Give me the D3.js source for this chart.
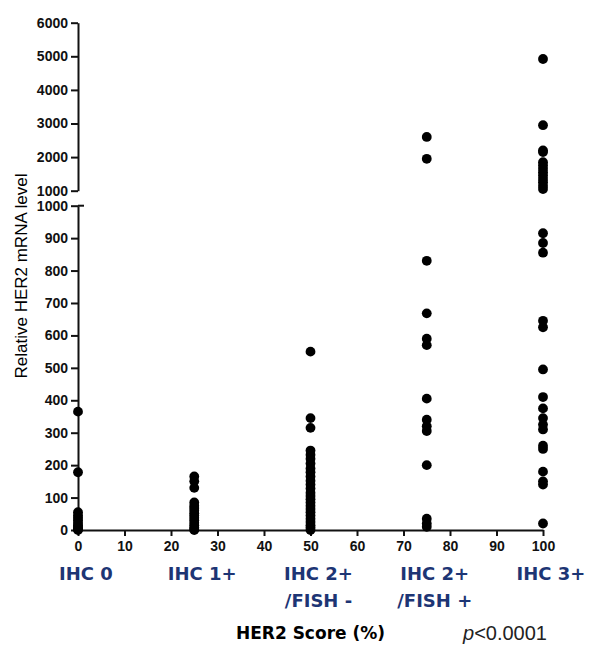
<!DOCTYPE html>
<html>
<head>
<meta charset="utf-8">
<script src="https://cdn.jsdelivr.net/npm/d3@7"></script>
<style>
  body { margin: 0; background: #fff; }
  svg { display: block; }
  .tk text { font-family: "Liberation Sans", Arial, sans-serif; font-weight: bold; font-size: 14px; fill: #111; }
  .tk path, .tk line { stroke: #111; stroke-width: 2px; }
</style>
</head>
<body>
<div id="chart"></div>
<script>
// HER2 score groups (x position in %) and their labels
var scores = [0, 25, 50, 75, 100];
var groupLabels = [["IHC 0"], ["IHC 1+"], ["IHC 2+", "/FISH -"], ["IHC 2+", "/FISH +"], ["IHC 3+"]];

// relative HER2 mRNA level per group
var ihc0 = [365, 178, 55, 45, 38, 30, 22, 15, 10, 5, 2, 0];
var ihc1 = [165, 150, 130, 85, 75, 68, 60, 52, 45, 38, 30, 22, 15, 8, 3, 0];
var ihc2neg = [550, 345, 315, 245, 232, 220, 205, 190, 178, 165, 152, 140, 128, 115, 105, 95, 85, 75, 65, 55, 45, 35, 25, 15, 8, 0];
var ihc2pos = [2600, 1950, 830, 668, 590, 570, 405, 340, 320, 305, 200, 35, 20, 10];
var ihc3 = [4920, 2950, 2200, 2150, 1850, 1750, 1650, 1550, 1450, 1350, 1250, 1150, 1050,
            915, 885, 855, 645, 625, 495, 410, 375, 345, 325, 310, 260, 250, 180, 150, 140, 20];
var groups = [ihc0, ihc1, ihc2neg, ihc2pos, ihc3];

// axis ticks
var xTicks = d3.range(0, 101, 10);
var lowTicks = d3.range(0, 1001, 100);
var highTicks = d3.range(1000, 6001, 1000);

var W = 600, H = 657;
var svg = d3.select("#chart").append("svg").attr("width", W).attr("height", H);

var x = d3.scaleLinear().domain([0, 100]).range([78, 543]);
var yLow = d3.scaleLinear().domain([0, 1000]).range([530, 205.7]);
var yHigh = d3.scaleLinear().domain([1000, 6000]).range([190.7, 22.7]);
function y(v) { return v > 1000 ? yHigh(v) : yLow(v); }
var fmt = d3.format("d");

// axes
var gx = svg.append("g").attr("class", "tk").attr("transform", "translate(0," + yLow(0) + ")")
  .call(d3.axisBottom(x).tickValues(xTicks).tickFormat(fmt).tickSize(6).tickSizeOuter(0).tickPadding(5));
var gl = svg.append("g").attr("class", "tk").attr("transform", "translate(" + x(0) + ",0)")
  .call(d3.axisLeft(yLow).tickValues(lowTicks).tickFormat(fmt).tickSize(7).tickSizeOuter(0).tickPadding(3));
var gh = svg.append("g").attr("class", "tk").attr("transform", "translate(" + x(0) + ",0)")
  .call(d3.axisLeft(yHigh).tickValues(highTicks).tickFormat(fmt).tickSize(7).tickSizeOuter(0).tickPadding(3));
// little right arm on the lower segment top (axis break)
gl.append("line").attr("x1", 0).attr("x2", 6).attr("y1", yLow(1000)).attr("y2", yLow(1000))
  .attr("stroke", "#111").attr("stroke-width", 2);

// points
var pts = [];
groups.forEach(function (g, i) { g.forEach(function (v) { pts.push({ s: scores[i], v: v }); }); });
svg.append("g").selectAll("circle").data(pts).join("circle")
  .attr("cx", function (d) { return x(d.s); })
  .attr("cy", function (d) { return y(d.v); })
  .attr("r", 4.9).attr("fill", "#000");

// y title
svg.append("text").attr("transform", "translate(27,276) rotate(-90)")
  .attr("text-anchor", "middle")
  .style("font-family", "Liberation Sans, Arial, sans-serif").style("font-size", "17px")
  .text("Relative HER2 mRNA level");

// group labels under the x axis
var gl2 = svg.append("g").selectAll("text").data(groupLabels).join("text")
  .attr("x", function (d, i) { return x(scores[i]) + 8; })
  .attr("y", 580)
  .attr("text-anchor", "middle")
  .style("font-family", "DejaVu Sans, sans-serif").style("font-weight", "bold").style("font-size", "18px")
  .attr("fill", "#1d3574");
gl2.selectAll("tspan").data(function (d) { return d; }).join("tspan")
  .attr("x", function () { return d3.select(this.parentNode).attr("x"); })
  .attr("dy", function (d, j) { return j ? 27 : 0; })
  .text(function (d) { return d; });

// x title and p value
svg.append("text").attr("x", x(50)).attr("y", 639).attr("text-anchor", "middle")
  .style("font-family", "DejaVu Sans, sans-serif").style("font-weight", "bold").style("font-size", "17px")
  .text("HER2 Score (%)");
var p = svg.append("text").attr("x", 463).attr("y", 640)
  .style("font-family", "Liberation Sans, Arial, sans-serif").style("font-size", "20px").attr("fill", "#222");
p.append("tspan").style("font-style", "italic").text("p");
p.append("tspan").text("<0.0001");
</script>
</body>
</html>
